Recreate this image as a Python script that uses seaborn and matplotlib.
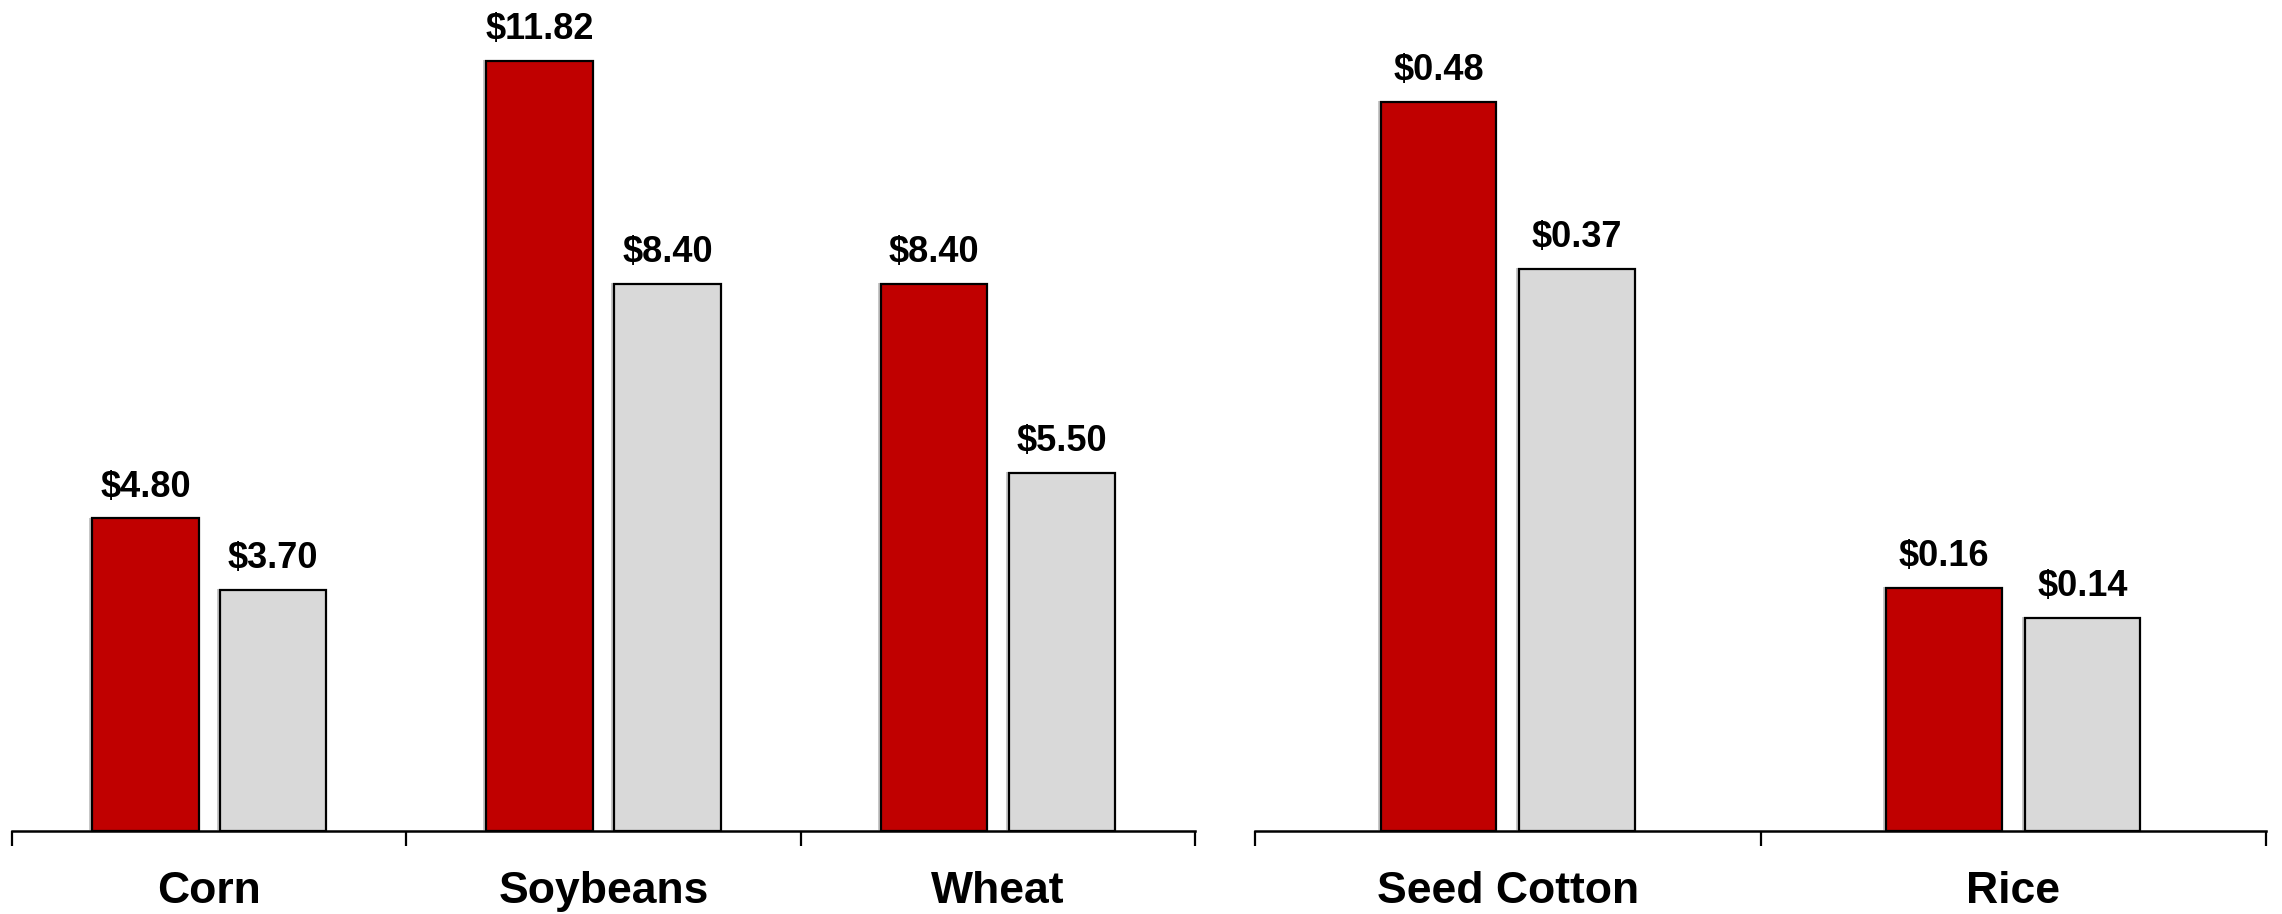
import numpy as np
import pandas as pd
import matplotlib
matplotlib.use("Agg")
import matplotlib.pyplot as plt
import matplotlib.patheffects as pe
import seaborn as sns

sns.set_theme(style="white")
plt.rcParams['font.family'] = ['Liberation Sans', 'DejaVu Sans']
plt.rcParams['text.color'] = 'black'
plt.rcParams['xtick.color'] = 'black'
plt.rcParams['xtick.labelcolor'] = 'black'

# data
left_crops = ["Corn", "Soybeans", "Wheat"]
left_red = [4.80, 11.82, 8.40]
left_gray = [3.70, 8.40, 5.50]

right_crops = ["Seed Cotton", "Rice"]
right_red = [0.48, 0.16]
right_gray = [0.37, 0.14]

series_names = ["Current", "Prior"]
palette = {"Current": "#C00000", "Prior": "#D9D9D9"}


def make_df(crops, red, gray):
    return pd.DataFrame({
        "crop": crops * 2,
        "value": list(red) + list(gray),
        "series": [series_names[0]] * len(crops) + [series_names[1]] * len(crops),
    })


def draw_panel(ax, crops, red, gray, width, ymax):
    df = make_df(crops, red, gray)
    sns.barplot(data=df, x="crop", y="value", hue="series", hue_order=series_names,
                palette=palette, width=width, gap=0.167, edgecolor="black",
                linewidth=1.6, saturation=1, legend=False, ax=ax)
    for patch in ax.patches:
        patch.set_path_effects([
            pe.SimplePatchShadow(offset=(-2.2, 0.6), shadow_rgbFace="#000000", alpha=0.22),
            pe.Normal(),
        ])
    for cont in ax.containers:
        ax.bar_label(cont, labels=["${:.2f}".format(v) for v in cont.datavalues],
                     padding=10, fontsize=26, fontweight="bold", color="black")

    n = len(crops)
    ax.set_xlim(-0.5, n - 0.5)
    ax.set_ylim(0, ymax)
    # tick marks at the category boundaries, labels in the middle
    ax.set_xticks(np.arange(n + 1) - 0.5)
    ax.set_xticklabels([])
    ax.set_xticks(np.arange(n), minor=True)
    ax.set_xticklabels(crops, minor=True, fontsize=32, fontweight="bold", color="black")
    ax.tick_params(axis="x", which="major", direction="out", length=11, width=1.6,
                   color="black", bottom=True)
    ax.tick_params(axis="x", which="minor", length=0, pad=29, bottom=True)
    ax.set_yticks([])
    ax.set_xlabel("")
    ax.set_ylabel("")
    for side in ["top", "left", "right"]:
        ax.spines[side].set_visible(False)
    ax.spines["bottom"].set_color("black")
    ax.spines["bottom"].set_linewidth(1.8)


fig = plt.figure(figsize=(22.82, 9.14), dpi=100)
ax1 = fig.add_axes([0.0053, 0.0908, 0.5184, 0.9092])
ax2 = fig.add_axes([0.5500, 0.0908, 0.4430, 0.9092])

draw_panel(ax1, left_crops, left_red, left_gray, 0.648, 12.76)
draw_panel(ax2, right_crops, right_red, right_gray, 0.548, 0.547)

fig.savefig("out.png", dpi=100, facecolor="white")
